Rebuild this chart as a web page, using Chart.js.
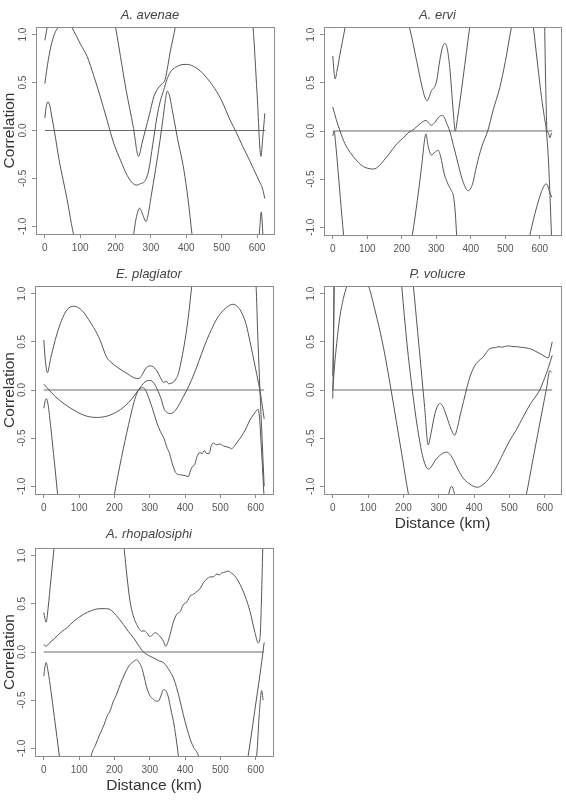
<!DOCTYPE html>
<html>
<head>
<meta charset="utf-8">
<script src="https://cdn.jsdelivr.net/npm/chart.js@4.4.0/dist/chart.umd.min.js"></script>
<style>
body { margin: 0; background: #fff; }
#page { position: relative; width: 566px; height: 802px; }
canvas { position: absolute; }
</style>
</head>
<body>
<div id="page">
<canvas id="c1" width="283" height="267" style="left:0;top:0"></canvas>
<canvas id="c2" width="283" height="267" style="left:283px;top:0"></canvas>
<canvas id="c3" width="283" height="267" style="left:0;top:267px"></canvas>
<canvas id="c4" width="283" height="267" style="left:283px;top:267px"></canvas>
<canvas id="c5" width="283" height="280" style="left:0;top:522px"></canvas>
</div>
<script>
// species names and maximum distance (km) of each correlogram
const species = ['A. avenae', 'A. ervi', 'E. plagiator', 'P. volucre', 'A. rhopalosiphi'];
const maxDistance = [623, 636, 624, 621, 624];

const xTicks = [0, 100, 200, 300, 400, 500, 600];
const yTicks = [-1, -0.5, 0, 0.5, 1];

// [distance km, correlation]  (values past +-1.08 run off the frame)
const avenaeUpper = [[0,0.94],[6.6,1.08],[15,1.35],[60,1.9],[150,1.9],[185,1.4],[200,1.08],[214,0.77],[230,0.42],[250,0.04],[265,-0.27],[275,-0.13],[284,0.0],[296,0.17],[308,0.35],[320,0.44],[332,0.49],[340,0.53],[348,0.68],[355,0.83],[369,1.08],[385,1.45],[450,1.9],[540,1.9],[575,1.45],[588.6,1.08],[600,0.39],[611,-0.27],[616,-0.08],[622,0.18]];
const avenaeCenter = [[0,0.49],[10,0.74],[20,0.92],[30,1.03],[45,1.1],[60,1.12],[75,1.08],[90,0.98],[101,0.9],[120,0.77],[138,0.575],[157,0.35],[176,0.107],[195,-0.135],[214,-0.31],[233,-0.47],[250,-0.555],[261,-0.57],[270,-0.555],[280,-0.54],[287,-0.5],[294,-0.41],[305,-0.15],[317,0.14],[326,0.3],[336,0.42],[345,0.53],[355,0.61],[370,0.66],[385,0.685],[402,0.69],[420,0.67],[440,0.62],[460,0.54],[480,0.44],[500,0.31],[525,0.1],[540,-0.01],[560,-0.17],[580,-0.32],[600,-0.48],[609,-0.55],[615,-0.6],[622,-0.71]];
const avenaeLower = [[0,0.13],[4,0.25],[9,0.3],[14,0.26],[20,0.14],[30,-0.07],[40,-0.3],[52,-0.52],[63,-0.72],[75,-0.97],[82,-1.1],[100,-1.5],[170,-2.0],[235,-1.6],[250,-1.12],[258,-0.92],[268,-0.81],[277,-0.88],[286,-0.95],[293,-0.86],[300,-0.7],[313,-0.41],[325,-0.12],[335,0.15],[341,0.32],[346,0.41],[352,0.37],[360,0.22],[375,-0.08],[393,-0.41],[405,-0.72],[416,-1.08],[430,-1.5],[500,-2.0],[580,-1.8],[600,-1.3],[607,-1.05],[612,-0.85],[616,-1.05],[620,-1.3]];

const erviUpper = [[0,0.78],[4,0.6],[7,0.54],[12,0.62],[20,0.78],[28,0.93],[36,1.08],[50,1.35],[130,1.8],[200,1.35],[222,1.08],[243,0.73],[258,0.47],[268,0.34],[274,0.315],[280,0.36],[286,0.42],[294,0.45],[301,0.52],[310,0.73],[318,0.87],[325,0.91],[332,0.85],[339,0.66],[349,0.21],[355,0.0],[361,0.12],[378,0.56],[397,1.08],[420,1.6],[500,2.2],[590,2.2],[610,1.8],[617,0.5],[621,0.0],[625,-0.02],[629,-0.07],[634,-0.02]];
const erviCenter = [[0,0.25],[10,0.12],[21,0.0],[35,-0.13],[50,-0.22],[70,-0.31],[89,-0.37],[105,-0.39],[118,-0.395],[135,-0.36],[147,-0.31],[165,-0.23],[185,-0.135],[205,-0.07],[218,-0.02],[228,0.0],[245,0.05],[258,0.09],[270,0.11],[278,0.08],[286,0.06],[296,0.09],[306,0.14],[315,0.16],[322,0.15],[330,0.08],[339,0.0],[349,-0.14],[359,-0.28],[375,-0.5],[388,-0.61],[393,-0.62],[405,-0.55],[417,-0.36],[432,-0.16],[449,0.0],[465,0.22],[484,0.45],[500,0.72],[518,1.08],[540,1.4],[560,1.5],[575,1.3],[581.5,1.08],[595,0.65],[605,0.35],[613,0.15],[619,0.0],[625,-0.3],[630,-0.72],[634,-1.1]];
const erviLower = [[0,-0.05],[4,0.0],[8,-0.12],[15,-0.4],[22,-0.7],[31,-1.07],[40,-1.4],[100,-2.2],[200,-1.6],[231,-1.07],[245,-0.72],[258,-0.35],[265,-0.12],[270,-0.03],[276,-0.15],[286,-0.25],[296,-0.22],[305,-0.2],[313,-0.27],[322,-0.43],[330,-0.52],[338,-0.58],[344,-0.62],[350,-0.68],[355,-0.85],[359,-1.08],[366,-1.45],[450,-2.0],[550,-1.5],[572,-1.07],[591,-0.79],[605,-0.63],[614,-0.56],[620,-0.55],[628,-0.63],[635,-0.69]];

const plagUpper = [[0,0.52],[4,0.32],[10,0.18],[20,0.34],[37,0.58],[50,0.72],[65,0.83],[84,0.87],[100,0.85],[112,0.81],[127,0.73],[141,0.65],[159,0.52],[178,0.34],[193,0.28],[207,0.24],[236,0.17],[263,0.12],[270,0.12],[277,0.15],[290,0.23],[301,0.25],[310,0.24],[320,0.2],[330,0.13],[339,0.08],[348,0.09],[353,0.065],[360,0.07],[367,0.08],[375,0.12],[381,0.17],[390,0.32],[400,0.52],[410,0.78],[419,1.08],[440,1.6],[520,2.2],[580,1.7],[601,1.08],[606,0.55],[612,0.0],[618,-0.5],[624,-1.0]];
const plagCenter = [[0,0.06],[10,0.02],[30,-0.06],[60,-0.15],[90,-0.22],[120,-0.27],[150,-0.285],[180,-0.27],[210,-0.22],[240,-0.13],[260,-0.04],[272,0.02],[282,0.07],[292,0.095],[301,0.1],[312,0.07],[322,0.0],[332,-0.09],[341,-0.2],[350,-0.235],[358,-0.245],[366,-0.235],[375,-0.2],[385,-0.14],[395,-0.07],[405,0.0],[418,0.1],[433,0.24],[447,0.38],[461,0.515],[475,0.63],[490,0.74],[504,0.81],[518,0.86],[535,0.89],[550,0.86],[562,0.79],[573,0.68],[584,0.5],[598,0.25],[608,0.07],[614,-0.05],[619,-0.17],[624,-0.3]];
const plagLower = [[0,-0.19],[4,-0.11],[7,-0.09],[12,-0.15],[20,-0.4],[30,-0.75],[39,-1.08],[50,-1.5],[120,-2.2],[180,-1.5],[200,-1.08],[220,-0.7],[240,-0.36],[255,-0.13],[265,-0.02],[272,0.01],[280,0.025],[288,0.0],[298,-0.09],[310,-0.22],[320,-0.34],[330,-0.43],[340,-0.5],[348,-0.59],[356,-0.66],[365,-0.78],[376,-0.87],[386,-0.88],[395,-0.885],[402,-0.89],[409,-0.9],[415,-0.84],[420,-0.8],[428,-0.77],[433,-0.7],[442,-0.65],[448,-0.66],[455,-0.63],[461,-0.66],[468,-0.66],[474,-0.58],[480,-0.55],[489,-0.57],[499,-0.56],[508,-0.58],[518,-0.59],[526,-0.6],[532,-0.61],[540,-0.58],[546,-0.55],[556,-0.5],[565,-0.45],[575,-0.38],[584,-0.31],[593,-0.26],[603,-0.21],[607,-0.2],[611,-0.3],[616,-0.6],[622,-1.0],[624,-1.15]];

const volUpper = [[0,0.15],[2,0.6],[4,1.2],[8,2.0],[100,3.0],[200,2.0],[228,1.08],[240,0.61],[250,0.22],[260,-0.18],[270,-0.57],[278,-0.45],[288,-0.26],[296,-0.17],[303,-0.14],[310,-0.16],[320,-0.25],[332,-0.38],[345,-0.47],[352,-0.4],[360,-0.27],[370,-0.12],[380,0.03],[388,0.135],[400,0.24],[412,0.3],[425,0.34],[435,0.39],[444,0.43],[460,0.44],[470,0.45],[480,0.445],[490,0.455],[501,0.457],[510,0.45],[520,0.45],[530,0.445],[540,0.44],[557,0.43],[575,0.4],[590,0.37],[604,0.34],[609,0.33],[615,0.4],[621,0.5]];
const volCenter = [[0,-0.09],[2,0.4],[4,1.08],[8,2.0],[100,3.0],[180,1.7],[195,1.08],[210,0.48],[225,0.0],[240,-0.4],[252,-0.65],[260,-0.76],[266,-0.81],[272,-0.82],[280,-0.79],[290,-0.73],[300,-0.69],[310,-0.66],[322,-0.645],[332,-0.67],[342,-0.73],[355,-0.83],[370,-0.92],[385,-0.97],[398,-1.0],[410,-1.01],[422,-0.99],[440,-0.93],[460,-0.82],[482,-0.66],[500,-0.53],[520,-0.41],[538.6,-0.28],[560,-0.14],[585.7,0.0],[600,0.13],[610,0.23],[621,0.36]];
const volLower = [[0,0.0],[5,0.25],[11,0.48],[20,0.76],[30,0.95],[40,1.08],[55,1.2],[70,1.22],[85,1.16],[101,1.08],[120,0.82],[143,0.45],[165,0.0],[180,-0.33],[195,-0.66],[214,-1.08],[240,-1.5],[290,-1.4],[320,-1.2],[336,-1.0],[352,-1.2],[380,-1.6],[450,-1.8],[520,-1.5],[548,-1.08],[565,-0.75],[580,-0.46],[595,-0.17],[605,0.02],[614,0.2],[620,0.18]];

const rhopUpper = [[0,0.41],[3,0.35],[6.6,0.31],[12,0.45],[20,0.75],[29,1.08],[40,1.5],[120,2.2],[200,1.6],[227,1.08],[235,0.8],[244,0.53],[253,0.38],[263,0.285],[270,0.24],[277,0.216],[284,0.22],[291.5,0.2],[301,0.16],[308,0.18],[315,0.2],[324.5,0.18],[332,0.15],[339,0.11],[345,0.06],[351,0.1],[357.5,0.18],[366,0.3],[376,0.39],[386,0.42],[395,0.49],[405,0.52],[414,0.58],[424,0.6],[434,0.63],[443,0.66],[452,0.72],[462,0.76],[471,0.78],[480,0.78],[490,0.81],[497,0.8],[504,0.82],[513,0.83],[522,0.84],[531,0.82],[541,0.79],[556,0.7],[570,0.58],[584,0.42],[598,0.2],[607,0.095],[612,0.14],[616,0.5],[620,1.08],[623,1.5]];
const rhopCenter = [[0,0.08],[3,0.065],[6.6,0.06],[15,0.09],[30,0.14],[50,0.21],[65,0.25],[85,0.32],[112,0.39],[135,0.43],[159,0.45],[175,0.45],[188,0.44],[205,0.38],[225.5,0.285],[240,0.21],[254,0.147],[268,0.07],[282,0.0],[296,-0.035],[310,-0.06],[325,-0.09],[339,-0.11],[348,-0.15],[357,-0.2],[367,-0.27],[376,-0.37],[386,-0.51],[395,-0.65],[405,-0.79],[414,-0.9],[424,-0.99],[438,-1.08],[460,-1.5],[530,-1.8],[565,-1.4],[579,-1.07],[590,-0.8],[600,-0.54],[610,-0.29],[617,-0.1],[624,0.1]];
const rhopLower = [[0,-0.25],[3,-0.16],[6.6,-0.11],[12,-0.2],[20,-0.4],[30,-0.68],[44,-1.08],[55,-1.4],[100,-1.7],[125,-1.3],[134,-1.08],[146,-0.97],[159,-0.85],[170,-0.76],[180,-0.66],[188,-0.61],[196,-0.52],[205,-0.45],[216,-0.34],[230,-0.22],[244,-0.13],[254,-0.1],[263,-0.08],[270,-0.11],[277,-0.16],[285,-0.27],[291.5,-0.37],[300,-0.45],[310,-0.49],[318,-0.51],[324.5,-0.51],[332,-0.45],[339,-0.39],[345,-0.4],[352,-0.46],[360,-0.6],[367,-0.72],[374,-0.88],[381,-1.08],[390,-1.4],[480,-2.0],[570,-1.6],[603,-1.07],[610,-0.65],[617,-0.4],[621,-0.5]];

const family = '"Liberation Sans", Arial, Helvetica, sans-serif';
Chart.defaults.font.family = family;

// R style box around the plot region
const frame = {
  id: 'frame',
  afterDraw(chart) {
    const {ctx, chartArea: a} = chart;
    ctx.save();
    ctx.strokeStyle = '#8c8c8c';
    ctx.lineWidth = 1;
    ctx.strokeRect(Math.round(a.left) + 0.5, Math.round(a.top) + 0.5,
                   Math.round(a.right - a.left), Math.round(a.bottom - a.top));
    ctx.restore();
  }
};

// italic species title, a little left of centre as in the figure
const panelTitle = {
  id: 'panelTitle',
  afterDraw(chart, args, opts) {
    const {ctx, chartArea: a} = chart;
    ctx.save();
    ctx.font = 'italic 13px ' + family;
    ctx.fillStyle = '#444';
    ctx.textAlign = 'center';
    ctx.textBaseline = 'middle';
    ctx.fillText(opts.text, (a.left + a.right) / 2 - 5, a.top - opts.gap);
    ctx.restore();
  }
};

function curve(pts) {
  return {
    data: pts.map(p => ({x: p[0], y: p[1]})),
    borderColor: '#555',
    borderWidth: 1,
    pointRadius: 0,
    cubicInterpolationMode: 'monotone',
    fill: false
  };
}

const layouts = [
  {id: 'c1', top: 27, right: 9, yw: 36, xh: 33, gap: 12, yTitle: true, xTitle: false, xtPad: 0},
  {id: 'c2', top: 27, right: 5, yw: 41, xh: 32, gap: 12, yTitle: false, xTitle: false, xtPad: 0},
  {id: 'c3', top: 19, right: 10, yw: 35, xh: 40, gap: 12, yTitle: true, xTitle: false, xtPad: 0},
  {id: 'c4', top: 19, right: 5, yw: 41, xh: 40, gap: 12, yTitle: false, xTitle: true, xtPad: 1},
  {id: 'c5', top: 26, right: 10, yw: 35, xh: 46, gap: 14, yTitle: true, xTitle: true, xtPad: 7}
];

const series = [
  [avenaeUpper, avenaeCenter, avenaeLower],
  [erviUpper, erviCenter, erviLower],
  [plagUpper, plagCenter, plagLower],
  [volUpper, volCenter, volLower],
  [rhopUpper, rhopCenter, rhopLower]
];

layouts.forEach((L, i) => {
  const dmax = maxDistance[i];
  const ds = series[i].map(curve);
  ds.push({
    data: [{x: 0, y: 0}, {x: dmax, y: 0}],
    borderColor: '#6a6a6a', borderWidth: 1, pointRadius: 0
  });

  new Chart(document.getElementById(L.id), {
    type: 'line',
    data: {datasets: ds},
    plugins: [frame, panelTitle],
    options: {
      responsive: false,
      animation: false,
      events: [],
      layout: {padding: {top: L.top, right: L.right, left: 0, bottom: 0}},
      elements: {line: {capBezierPoints: false}},
      plugins: {
        legend: {display: false},
        tooltip: {enabled: false},
        panelTitle: {text: species[i], gap: L.gap}
      },
      scales: {
        x: {
          type: 'linear',
          min: -0.04 * dmax,
          max: 1.04 * dmax,
          afterBuildTicks: s => { s.ticks = xTicks.map(v => ({value: v})); },
          afterFit: s => { s.height = L.xh; },
          grid: {drawOnChartArea: false, tickLength: 4, color: '#8c8c8c'},
          border: {display: true, color: '#8c8c8c'},
          ticks: {font: {size: 10}, color: '#555', padding: 4, maxRotation: 0, autoSkip: false,
                  callback: v => String(v)},
          title: {display: L.xTitle, text: 'Distance (km)', font: {size: 15.5}, color: '#333',
                  padding: {top: 0, bottom: L.xtPad}}
        },
        y: {
          min: -1.08,
          max: 1.08,
          afterBuildTicks: s => { s.ticks = yTicks.map(v => ({value: v})); },
          afterFit: s => { s.width = L.yw; },
          grid: {drawOnChartArea: false, tickLength: 4, color: '#8c8c8c'},
          border: {display: true, color: '#8c8c8c'},
          ticks: {font: {size: 10}, color: '#555', padding: 0, minRotation: 90, maxRotation: 90,
                  crossAlign: 'center', callback: v => v.toFixed(1)},
          title: {display: L.yTitle, text: 'Correlation', font: {size: 15.5}, color: '#333',
                  padding: {top: 0, bottom: 0}}
        }
      }
    }
  });
});
</script>
</body>
</html>
